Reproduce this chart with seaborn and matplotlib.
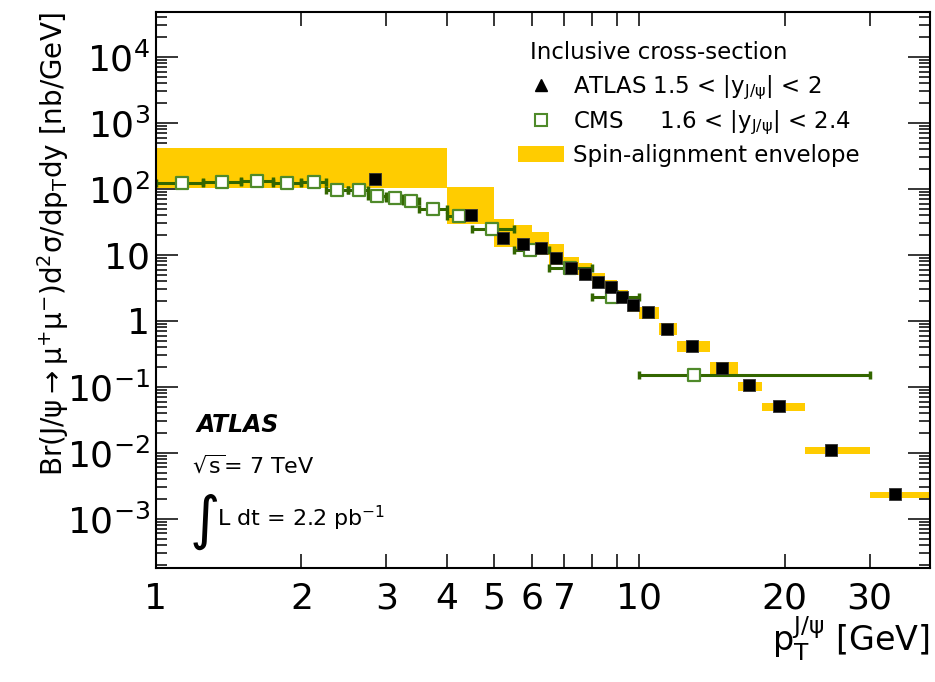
import numpy as np
import matplotlib
matplotlib.use("Agg")
import matplotlib.pyplot as plt
import seaborn as sns
from matplotlib.lines import Line2D
from matplotlib.patches import Patch
from matplotlib.ticker import FixedLocator, FixedFormatter, LogLocator, NullFormatter, NullLocator

# ATLAS, 1.5 < |y| < 2
atlas_pt = [2.84, 4.49, 5.22, 5.74, 6.25, 6.74, 7.23, 7.73, 8.23, 8.73, 9.22, 9.73,
            10.44, 11.44, 12.84, 14.85, 16.86, 19.5, 24.9, 33.9]
atlas_xs = [142, 39.7, 18.1, 14.7, 12.8, 9.1, 6.35, 5.1, 3.86, 3.24, 2.29, 1.73,
            1.34, 0.764, 0.418, 0.196, 0.107, 0.0515, 0.0111, 0.00237]

# CMS, 1.6 < |y| < 2.4
cms_pt = [1.13, 1.37, 1.62, 1.87, 2.12, 2.37, 2.63, 2.87, 3.12, 3.37, 3.74, 4.24,
          4.96, 5.95, 7.2, 8.77, 13.0]
cms_lo = [1.0, 1.25, 1.5, 1.75, 2.0, 2.25, 2.5, 2.75, 3.0, 3.25, 3.5, 4.0,
          4.5, 5.5, 6.5, 8.0, 10.0]
cms_hi = [1.25, 1.5, 1.75, 2.0, 2.25, 2.5, 2.75, 3.0, 3.25, 3.5, 4.0, 4.5,
          5.5, 6.5, 8.0, 10.0, 30.0]
cms_xs = [122, 128, 132, 122, 126, 95.6, 96.6, 77.5, 73.1, 66.5, 49.8, 39.4,
          24.5, 11.9, 6.29, 2.29, 0.153]

# spin-alignment envelope (bins)
env_lo = [1.0, 1.07, 2.4, 4.0, 5.0, 5.5, 6.0, 6.5, 7.0, 7.5, 8.0, 8.5, 9.0, 9.5,
          10, 11, 12, 14, 16, 18, 22, 30]
env_hi = env_lo[1:] + [40]
env_min = [105, 105, 105, 29.2, 13.4, 11.2, 10.0, 7.05, 4.98, 4.18, 3.16, 2.66,
           1.87, 1.37, 1.06, 0.614, 0.336, 0.157, 0.088, 0.0438, 0.00976, 0.0021]
env_max = [414, 414, 414, 108, 34.7, 28.5, 22.5, 14.5, 9.42, 7.57, 5.33, 4.18,
           2.95, 2.08, 1.65, 0.943, 0.498, 0.237, 0.120, 0.0566, 0.0122, 0.00254]

x_ticks = [1, 2, 3, 4, 5, 6, 7, 8, 9, 10, 20, 30, 40]
x_ticklabels = ['1', '2', '3', '4', '5', '6', '7', '', '', '10', '20', '30', '']
y_ticks = [1e-3, 1e-2, 1e-1, 1, 10, 1e2, 1e3, 1e4]
y_ticklabels = [r'$10^{-3}$', r'$10^{-2}$', r'$10^{-1}$', '1', '10',
                r'$10^{2}$', r'$10^{3}$', r'$10^{4}$']

yellow = '#ffcc00'
green_err = '#336600'
green_mk = '#4f8a2a'

sns.set_theme(style='ticks')
plt.rcParams['font.family'] = ['DejaVu Sans']
plt.rcParams['mathtext.fontset'] = 'dejavusans'
plt.rcParams['mathtext.default'] = 'regular'
for key in ['text.color', 'axes.labelcolor', 'xtick.color', 'ytick.color', 'axes.edgecolor']:
    plt.rcParams[key] = 'black'

fig, ax = plt.subplots(figsize=(9.35, 6.82), dpi=100)
fig.subplots_adjust(left=0.1668, right=0.9947, bottom=0.1672, top=0.9824)
ax.set_xscale('log')
ax.set_yscale('log')

# envelope boxes
ax.bar(env_lo, np.subtract(env_max, env_min), bottom=env_min,
       width=np.subtract(env_hi, env_lo), align='edge', color=yellow,
       linewidth=0, zorder=1)

# CMS
cms_pt_a = np.array(cms_pt)
ax.errorbar(cms_pt, cms_xs, xerr=[cms_pt_a - cms_lo, np.array(cms_hi) - cms_pt_a],
            fmt='none', ecolor=green_err, elinewidth=2.2, capsize=3, capthick=2.5,
            zorder=2)
sns.scatterplot(x=cms_pt, y=cms_xs, marker='s', s=80, facecolor='white',
                edgecolor=green_mk, linewidth=1.6, ax=ax, zorder=3)

# ATLAS
sns.scatterplot(x=atlas_pt, y=atlas_xs, marker='s', s=82, color='black',
                edgecolor='#333333', linewidth=0.6, ax=ax, zorder=4)

ax.set_xlim(1, 40)
ax.set_ylim(1.8e-4, 4.8e4)

ax.xaxis.set_major_locator(FixedLocator(x_ticks))
ax.xaxis.set_major_formatter(FixedFormatter(x_ticklabels))
ax.xaxis.set_minor_locator(NullLocator())
ax.yaxis.set_major_locator(FixedLocator(y_ticks))
ax.yaxis.set_major_formatter(FixedFormatter(y_ticklabels))
ax.yaxis.set_minor_locator(LogLocator(base=10, subs=np.arange(2, 10), numticks=20))
ax.yaxis.set_minor_formatter(NullFormatter())

ax.tick_params(which='both', direction='in', top=True, right=True, color='black')
ax.tick_params(axis='x', which='major', length=10, width=1.1, labelsize=26, pad=10)
ax.tick_params(axis='y', which='major', length=16, width=1.1, labelsize=26, pad=4)
ax.tick_params(axis='y', which='minor', length=8, width=1.1)
for sp in ax.spines.values():
    sp.set_linewidth(1.5)

ax.set_ylabel(r'Br(J/$\psi\rightarrow\mu^{+}\mu^{-}$)d$^{2}\sigma$/dp$_{T}$dy [nb/GeV]',
              fontsize=20, loc='top')
ax.yaxis.set_label_coords(-0.110, 1.0)
ax.set_xlabel(r'p$_{T}^{J/\psi}$ [GeV]', fontsize=24, loc='right')
ax.xaxis.set_label_coords(1.0, -0.085)

# legend
ax.text(0.483, 0.928, 'Inclusive cross-section', transform=ax.transAxes,
        fontsize=16.5, va='center', ha='left')
h_atlas = Line2D([], [], ls='none', marker='^', color='black', markersize=8)
h_cms = Line2D([], [], ls='none', marker='s', mfc='white', mec=green_mk, mew=1.5, markersize=8)
h_env = Patch(facecolor=yellow, edgecolor='none')
ax.legend([h_atlas, h_cms, h_env],
          [r'ATLAS 1.5 < |y$_{J/\psi}$| < 2', r'CMS     1.6 < |y$_{J/\psi}$| < 2.4',
           'Spin-alignment envelope'],
          fontsize=16.5, loc='upper left', bbox_to_anchor=(0.468, 0.889),
          frameon=False, handlelength=2.0, handletextpad=0.4,
          labelspacing=0.3, borderpad=0, borderaxespad=0)

# labels
ax.text(0.053, 0.257, 'ATLAS', transform=ax.transAxes, fontsize=17,
        fontweight='bold', fontstyle='italic', va='center', ha='left')
ax.text(0.046, 0.185, r'$\sqrt{s}$= 7 TeV', transform=ax.transAxes, fontsize=16,
        va='center', ha='left')
ax.text(0.043, 0.083, '∫', transform=ax.transAxes, fontsize=42,
        va='center', ha='left')
ax.text(0.079, 0.09, r'L dt = 2.2 pb$^{-1}$', transform=ax.transAxes, fontsize=16,
        va='center', ha='left')

fig.savefig('out.png', dpi=100)
